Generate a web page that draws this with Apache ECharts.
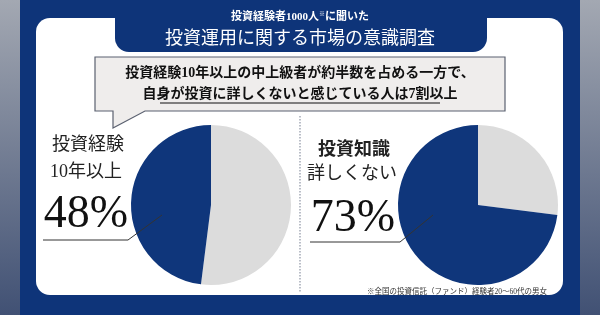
<!DOCTYPE html>
<html><head><meta charset="utf-8">
<script src="https://cdn.jsdelivr.net/npm/echarts@6/dist/echarts.min.js"></script>
<style>html,body{margin:0;padding:0;background:#fff}#c{width:600px;height:315px}</style>
</head><body><div id="c"></div>
<script>
// ---- data ----
const titleSub = '投資経験者1000人';
const titleMain = '投資運用に関する市場の意識調査';
const calloutLines = ['投資経験10年以上の中上級者が約半数を占める一方で、', '自身が投資に詳しくないと感じている人は7割以上'];
const leftLabel = ['投資経験', '10年以上'];
const rightLabel = ['投資知識', '詳しくない'];
const sliceNames = ['その他', '該当'];
const leftValues = [52, 48];   // gray, navy
const rightValues = [27, 73];  // gray, navy
const footnote = '※全国の投資信託（ファンド）経験者20～60代の男女';

const NAVY = '#0f367b';
const GRAY = '#dcdcdc';
const SERIF = '"Liberation Serif","Noto Sans CJK JP",serif';

const chart = echarts.init(document.getElementById('c'), null, {renderer: 'canvas'});

function pieSeries(values, cx) {
  return {
    type: 'pie', center: [cx, 205], radius: [0, 80], startAngle: 90, clockwise: true,
    silent: true, label: {show: false}, labelLine: {show: false},
    itemStyle: {borderWidth: 0},
    data: values.map((v, i) => ({name: sliceNames[i], value: v, itemStyle: {color: i === 0 ? GRAY : NAVY}}))
  };
}

const g = [];
// side gradients
g.push({type: 'rect', z: 0, shape: {x: 0, y: 0, width: 600, height: 315},
  style: {fill: new echarts.graphic.LinearGradient(0, 0, 0, 1, [{offset: 0, color: '#a3a8b2'}, {offset: 1, color: '#415174'}])}});
g.push({type: 'rect', z: 1, shape: {x: 20, y: 0, width: 560, height: 315}, style: {fill: '#0e3479'}});
// white card
g.push({type: 'rect', z: 2, shape: {x: 36, y: 18, width: 527, height: 277, r: 14}, style: {fill: '#ffffff'}});
// title tab
g.push({type: 'rect', z: 3, shape: {x: 115, y: 0, width: 372, height: 52, r: [0, 0, 14, 14]}, style: {fill: '#0e3479'}});
// title texts
g.push({type: 'text', z: 10, x: 300, y: 17, style: {
  text: '{a|' + titleSub + '}{s|※}{a|に聞いた}', align: 'center', verticalAlign: 'middle',
  rich: {a: {fontFamily: SERIF, fontSize: 11, fontWeight: 'bold', fill: '#fff', color: '#fff'},
         s: {fontFamily: SERIF, fontSize: 6, fill: '#fff', color: '#fff', verticalAlign: 'top', padding: [0, 0, 6, 0]}}
}});
g.push({type: 'text', z: 10, x: 300, y: 39, style: {text: titleMain, align: 'center', verticalAlign: 'middle',
  font: '18px ' + SERIF, fill: '#ffffff'}});
// callout
g.push({type: 'polygon', z: 5, shape: {points: [[95, 57], [505, 57], [505, 111], [145, 111], [113, 128], [113, 111], [95, 111]]},
  style: {fill: '#efedec', stroke: '#5b6170', lineWidth: 1.2}});
g.push({type: 'text', z: 10, x: 300, y: 73, style: {text: calloutLines[0], align: 'center', verticalAlign: 'middle',
  font: 'bold 14px ' + SERIF, fill: '#111'}});
g.push({type: 'text', z: 10, x: 300, y: 94, style: {text: calloutLines[1], align: 'center', verticalAlign: 'middle',
  font: 'bold 14px ' + SERIF, fill: '#111'}});
g.push({type: 'line', z: 10, shape: {x1: 160, y1: 103, x2: 440, y2: 103}, style: {stroke: '#111', lineWidth: 1.2}});
// divider
g.push({type: 'line', z: 6, shape: {x1: 300, y1: 116, x2: 300, y2: 292}, style: {stroke: '#8c93a3', lineWidth: 1.2, lineDash: [1.5, 1.5]}});
// left labels
g.push({type: 'text', z: 10, x: 88, y: 145, style: {text: leftLabel[0], align: 'center', verticalAlign: 'middle', font: '18px ' + SERIF, fill: '#222'}});
g.push({type: 'text', z: 10, x: 86, y: 172, style: {text: leftLabel[1], align: 'center', verticalAlign: 'middle', font: '18px ' + SERIF, fill: '#222'}});
g.push({type: 'text', z: 10, x: 86, y: 215, style: {text: leftValues[1] + '%', align: 'center', verticalAlign: 'middle', font: '46px ' + SERIF, fill: '#111'}});
g.push({type: 'polyline', z: 10, shape: {points: [[43, 240], [128, 240], [162, 215]]}, style: {stroke: '#333', lineWidth: 1, fill: null}});
// right labels
g.push({type: 'text', z: 10, x: 354, y: 150, style: {text: rightLabel[0], align: 'center', verticalAlign: 'middle', font: 'bold 18px ' + SERIF, fill: '#222'}});
g.push({type: 'text', z: 10, x: 352, y: 174, style: {text: rightLabel[1], align: 'center', verticalAlign: 'middle', font: '18px ' + SERIF, fill: '#222'}});
g.push({type: 'text', z: 10, x: 353, y: 219, style: {text: rightValues[1] + '%', align: 'center', verticalAlign: 'middle', font: '46px ' + SERIF, fill: '#111'}});
g.push({type: 'polyline', z: 10, shape: {points: [[310, 242], [400, 242], [433, 215]]}, style: {stroke: '#333', lineWidth: 1, fill: null}});
// footnote
g.push({type: 'text', z: 10, x: 457, y: 292, style: {text: footnote, align: 'center', verticalAlign: 'middle', font: '7.5px ' + SERIF, fill: '#333'}});

chart.setOption({
  animation: false,
  graphic: {elements: g},
  series: [Object.assign(pieSeries(leftValues, 211), {z: 4}), Object.assign(pieSeries(rightValues, 478), {z: 4})]
});
</script></body></html>
